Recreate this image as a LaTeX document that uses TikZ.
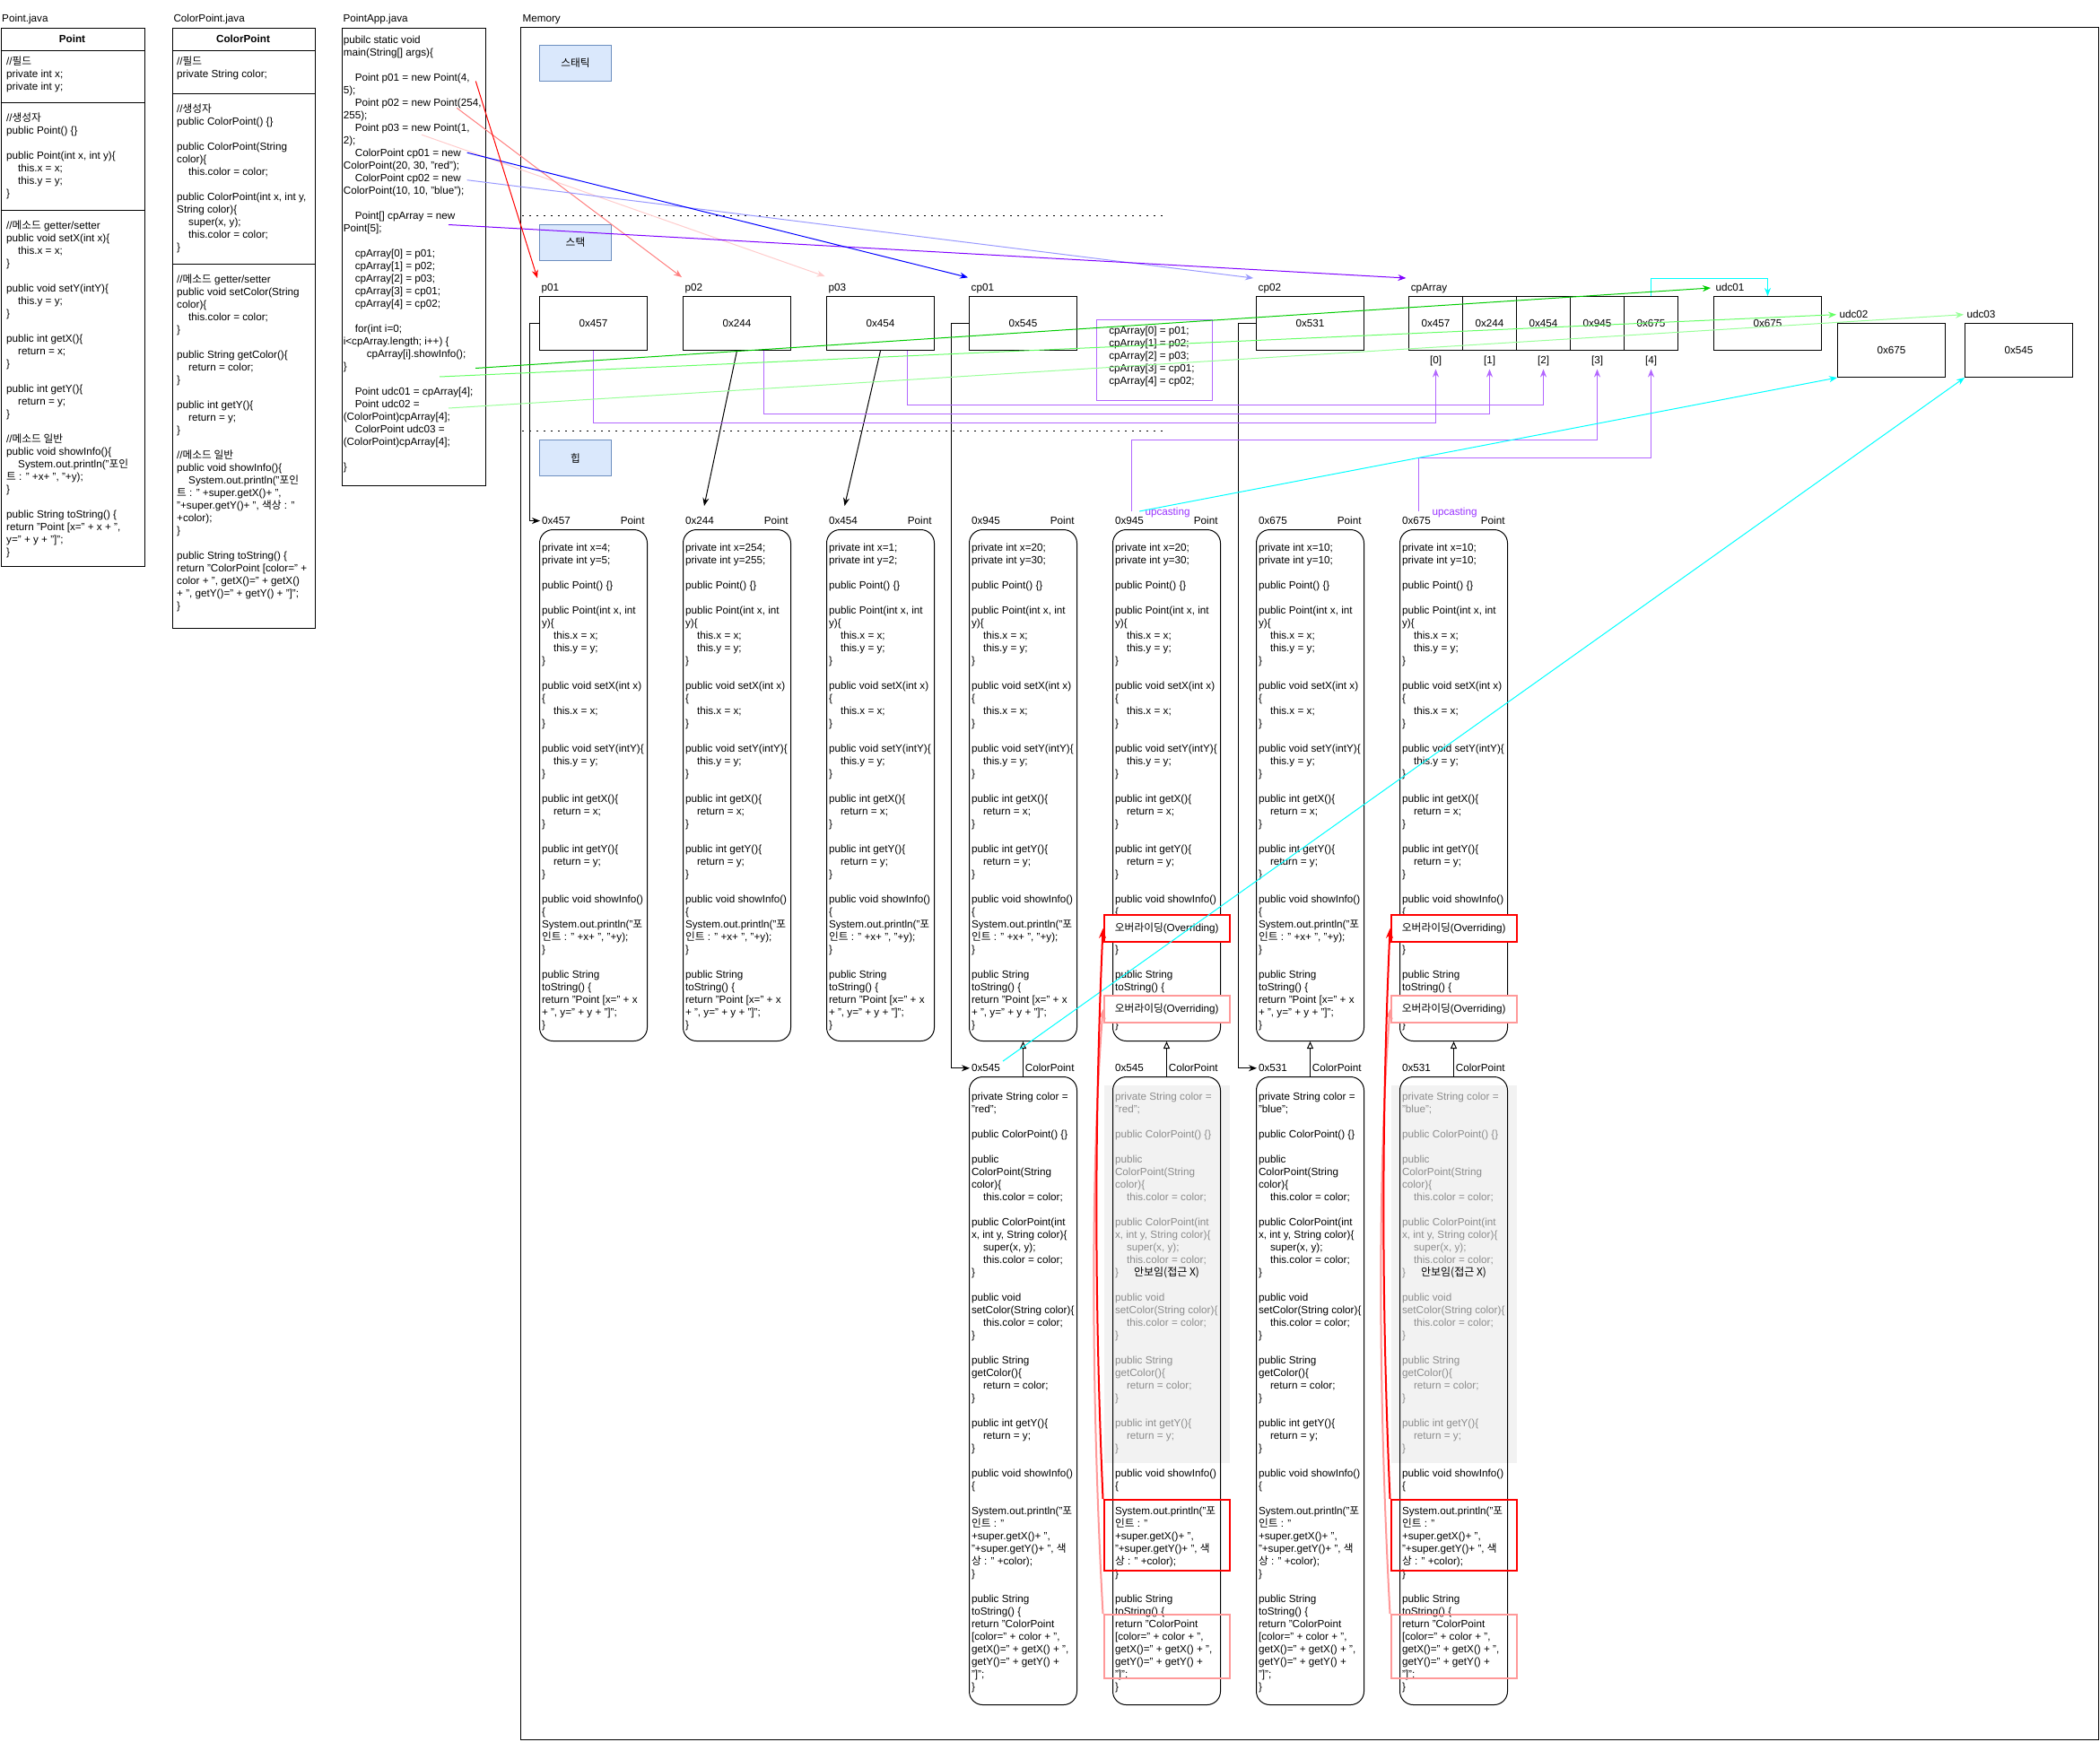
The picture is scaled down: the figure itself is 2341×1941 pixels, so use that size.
\documentclass[tikz,border=0pt]{standalone}
\usepackage{fontspec}
\setmainfont{Liberation Sans}
\newfontfamily\korfont{Noto Sans CJK KR}
\usetikzlibrary{arrows.meta}
\newcommand\kor[1]{{\korfont #1}}
\newcommand\codefont{\fontsize{11.7}{14}\selectfont}
\newcommand\tstrut{\rule{0pt}{11pt}}
\newcommand\ind{\hspace*{13pt}}
\definecolor{cRed}{HTML}{FF0000}
\definecolor{cSalmon}{HTML}{FF8080}
\definecolor{cLPink}{HTML}{FFCCCC}
\definecolor{cPinkB}{HTML}{FF9999}
\definecolor{cBlue}{HTML}{0000FF}
\definecolor{cLBlue}{HTML}{9999FF}
\definecolor{cPurple}{HTML}{7F00FF}
\definecolor{cIPurple}{HTML}{B266FF}
\definecolor{cUpc}{HTML}{9933FF}
\definecolor{cDGreen}{HTML}{00CC00}
\definecolor{cMGreen}{HTML}{66FF66}
\definecolor{cLGreen}{HTML}{99FF99}
\definecolor{cCyan}{HTML}{00FFFF}
\definecolor{cBoxFill}{HTML}{DAE8FC}
\definecolor{cBoxLine}{HTML}{6C8EBF}
\definecolor{cGrayFill}{HTML}{F2F2F2}
\definecolor{cGrayText}{HTML}{8C8C8C}

\newcommand\ptobj[2]{\tstrut private int x=#1;\\
private int y=#2;\\
\\
public Point() \{\}\\
\\
public Point(int x, int\\
y)\{\\
\ind this.x = x;\\
\ind this.y = y;\\
\}\\
\\
public void setX(int x)\\
\{\\
\ind this.x = x;\\
\}\\
\\
public void setY(intY)\{\\
\ind this.y = y;\\
\}\\
\\
public int getX()\{\\
\ind return = x;\\
\}\\
\\
public int getY()\{\\
\ind return = y;\\
\}\\
\\
public void showInfo()\\
\{\\
System.out.println("\kor{포}\\
\kor{인트} : " +x+ ", "+y);\\
\}\\
\\
public String\\
toString() \{\\
return "Point [x=" + x\\
+ ", y=" + y + "]";\\
\}}

\newcommand\cptop[1]{\tstrut private String color =\\
"#1";\\
\\
public ColorPoint() \{\}\\
\\
public\\
ColorPoint(String\\
color)\{\\
\ind this.color = color;\\
\\
public ColorPoint(int\\
x, int y, String color)\{\\
\ind super(x, y);\\
\ind this.color = color;\\
\}\\
\\
public void\\
setColor(String color)\{\\
\ind this.color = color;\\
\}\\
\\
public String\\
getColor()\{\\
\ind return = color;\\
\}\\
\\
public int getY()\{\\
\ind return = y;\\
\}}

\newcommand\cpbot{\tstrut public void showInfo()\\
\{\\
\\
System.out.println("\kor{포}\\
\kor{인트} : "\\
+super.getX()+ ",\\
"+super.getY()+ ", \kor{색}\\
\kor{상} : " +color);\\
\}\\
\\
public String\\
toString() \{\\
return "ColorPoint\\
{[}color=" + color + ",\\
getX()=" + getX() + ",\\
getY()=" + getY() +\\
"]";\\
\}}

\begin{document}
\begin{tikzpicture}[x=1pt,y=-1pt,line width=1pt,
 code/.style={anchor=north west,inner sep=0pt,align=left,font=\codefont},
 lbl/.style={anchor=base west,inner sep=0pt,font=\codefont},
 lblr/.style={anchor=base east,inner sep=0pt,font=\codefont},
 ctr/.style={anchor=base,inner sep=0pt,font=\codefont},
 vbox/.style={draw,inner sep=0pt,minimum width=120pt,minimum height=60pt,font=\codefont},
 cell/.style={draw,inner sep=0pt,minimum width=60pt,minimum height=60pt,font=\codefont},
 secbox/.style={draw=cBoxLine,fill=cBoxFill,inner sep=0pt,minimum width=80pt,minimum height=40pt,font=\codefont\korfont},
 pobj/.style={draw,rounded corners=15pt,inner sep=0pt,minimum width=120pt,minimum height=570pt},
 cobj/.style={draw,rounded corners=15pt,inner sep=0pt,minimum width=120pt,minimum height=700pt},
 arr/.style={-{Stealth[length=9pt,width=7pt]}},
 inh/.style={-{Triangle[open,length=8pt,width=7pt]}},
 ovr/.style={draw=cRed,line width=2pt,fill=white,inner sep=0pt,minimum width=140.5pt,minimum height=30pt,font=\codefont},
 ovp/.style={ovr,draw=cPinkB},
 dotline/.style={line width=1.5pt,dash pattern=on 1.5pt off 6.5pt},
]
\useasboundingbox (0,0) rectangle (2341,1941);
\fill[white] (0,0) rectangle (2341,1941);

% ---------- Point.java ----------
\node[lbl] (lpj) at (1.7,24.1) {Point.java};
\node[draw,anchor=north west,inner sep=0pt,minimum width=160pt,minimum height=600pt] (pcls) at (0.5,30.5) {};
\draw (0.5,56.5) -- (160.5,56.5) (0.5,114.5) -- (160.5,114.5) (0.5,234.5) -- (160.5,234.5);
\node[ctr,font=\codefont\bfseries] (pch) at (80.5,47.4) {Point};
\node[code] (pcs1) at (6.7,61.4) {\tstrut //\kor{필드}\\ private int x;\\ private int y;};
\node[code] (pcs2) at (6.7,123.9) {\tstrut //\kor{생성자}\\ public Point() \{\}\\ \\ public Point(int x, int y)\{\\ \ind this.x = x;\\ \ind this.y = y;\\ \}};
\node[code] (pcs3) at (6.7,244.4) {\tstrut //\kor{메소드} getter/setter\\
public void setX(int x)\{\\
\ind this.x = x;\\
\}\\
\\
public void setY(intY)\{\\
\ind this.y = y;\\
\}\\
\\
public int getX()\{\\
\ind return = x;\\
\}\\
\\
public int getY()\{\\
\ind return = y;\\
\}\\
\\
//\kor{메소드 일반}\\
public void showInfo()\{\\
\ind System.out.println("\kor{포인}\\
\kor{트} : " +x+ ", "+y);\\
\}\\
\\
public String toString() \{\\
return "Point [x=" + x + ",\\
y=" + y + "]";\\
\}};

% ---------- ColorPoint.java ----------
\node[lbl] (lcpj) at (193,24.1) {ColorPoint.java};
\node[draw,anchor=north west,inner sep=0pt,minimum width=159pt,minimum height=669pt] (ccls) at (191.5,30.5) {};
\draw (191.5,56.5) -- (350.5,56.5) (191.5,104.5) -- (350.5,104.5) (191.5,294.5) -- (350.5,294.5);
\node[ctr,font=\codefont\bfseries] (cch) at (271,47.4) {ColorPoint};
\node[code] (ccs1) at (196.7,61.4) {\tstrut //\kor{필드}\\ private String color;};
\node[code] (ccs2) at (196.7,113.6) {\tstrut //\kor{생성자}\\
public ColorPoint() \{\}\\
\\
public ColorPoint(String\\
color)\{\\
\ind this.color = color;\\
\\
public ColorPoint(int x, int y,\\
String color)\{\\
\ind super(x, y);\\
\ind this.color = color;\\
\}};
\node[code] (ccs3) at (196.7,304.3) {\tstrut //\kor{메소드} getter/setter\\
public void setColor(String\\
color)\{\\
\ind this.color = color;\\
\}\\
\\
public String getColor()\{\\
\ind return = color;\\
\}\\
\\
public int getY()\{\\
\ind return = y;\\
\}\\
\\
//\kor{메소드 일반}\\
public void showInfo()\{\\
\ind System.out.println("\kor{포인}\\
\kor{트} : " +super.getX()+ ",\\
"+super.getY()+ ", \kor{색상} : "\\
+color);\\
\}\\
\\
public String toString() \{\\
return "ColorPoint [color=" +\\
color + ", getX()=" + getX()\\
+ ", getY()=" + getY() + "]";\\
\}};

% ---------- PointApp.java ----------
\node[lbl] (lapp) at (382,24.1) {PointApp.java};
\node[draw,anchor=north west,inner sep=0pt,minimum width=160pt,minimum height=510pt] (app) at (380.5,30.5) {};
\node[code] (apptxt) at (382.3,37) {\tstrut pubilc static void\\
main(String[] args)\{\\
\\
\ind Point p01 = new Point(4,\\
5);\\
\ind Point p02 = new Point(254,\\
255);\\
\ind Point p03 = new Point(1,\\
2);\\
\ind ColorPoint cp01 = new\\
ColorPoint(20, 30, "red");\\
\ind ColorPoint cp02 = new\\
ColorPoint(10, 10, "blue");\\
\\
\ind Point{[]} cpArray = new\\
Point[5];\\
\\
\ind cpArray[0] = p01;\\
\ind cpArray[1] = p02;\\
\ind cpArray[2] = p03;\\
\ind cpArray[3] = cp01;\\
\ind cpArray[4] = cp02;\\
\\
\ind for(int i=0;\\
i<cpArray.length; i++) \{\\
\ind\ind cpArray[i].showInfo();\\
\}\\
\\
\ind Point udc01 = cpArray[4];\\
\ind Point udc02 =\\
(ColorPoint)cpArray[4];\\
\ind ColorPoint udc03 =\\
(ColorPoint)cpArray[4];\\
\\
\}};

% ---------- Memory ----------
\node[lbl] (lmem) at (582,24.1) {Memory};
\draw (580.5,30.5) rectangle (2339.5,1939.5);
\node[secbox] (sstatic) at (641.5,70.5) {스태틱};
\node[secbox] (sstack) at (641.5,270.5) {스택};
\node[secbox] (sheap) at (641.5,510.5) {힙};
\draw[dotline] (582,240.5) -- (1295.5,240.5);
\draw[dotline] (582,480.5) -- (1295.5,480.5);

% stack variables
\node[lbl] (lp01) at (603.2,324.8) {p01};
\node[vbox] (p01) at (661.5,360.5) {0x457};
\node[lbl] (lp02) at (763.2,324.8) {p02};
\node[vbox] (p02) at (821.5,360.5) {0x244};
\node[lbl] (lp03) at (923.2,324.8) {p03};
\node[vbox] (p03) at (981.5,360.5) {0x454};
\node[lbl] (lcp01) at (1082.2,324.8) {cp01};
\node[vbox] (cp01) at (1140.5,360.5) {0x545};
\node[lbl] (lcp02) at (1402.2,324.8) {cp02};
\node[vbox] (cp02) at (1460.5,360.5) {0x531};

\node[draw=cIPurple,anchor=north west,inner sep=0pt,minimum width=129.5pt,minimum height=90pt] (cpt) at (1221.5,355.5) {};
\node[code] (cpttxt) at (1235.8,361.1) {\tstrut cpArray[0] = p01;\\ cpArray[1] = p02;\\ cpArray[2] = p03;\\ cpArray[3] = cp01;\\ cpArray[4] = cp02;};

\node[lbl] (lcpa) at (1572.3,324.8) {cpArray};
\node[cell] (a0) at (1600.5,360.5) {0x457};
\node[cell] (a1) at (1660.5,360.5) {0x244};
\node[cell] (a2) at (1720.5,360.5) {0x454};
\node[cell] (a3) at (1780.5,360.5) {0x945};
\node[cell] (a4) at (1840.5,360.5) {0x675};
\node[ctr] (i0) at (1600.5,405.8) {[0]};
\node[ctr] (i1) at (1660.5,405.8) {[1]};
\node[ctr] (i2) at (1720.5,405.8) {[2]};
\node[ctr] (i3) at (1780.5,405.8) {[3]};
\node[ctr] (i4) at (1840.5,405.8) {[4]};

\node[lbl] (ludc1) at (1912,324.8) {udc01};
\node[vbox] (udc01) at (1970.5,360.5) {0x675};
\node[lbl] (ludc2) at (2050,354.8) {udc02};
\node[vbox] (udc02) at (2108.5,390.5) {0x675};
\node[lbl] (ludc3) at (2192,354.8) {udc03};
\node[vbox] (udc03) at (2250.5,390.5) {0x545};

% gray (hidden) areas
\fill[cGrayFill] (1230.5,1210) rectangle (1371,1631);
\fill[cGrayFill] (1550.5,1210) rectangle (1691,1631);

% heap Point objects
\node[pobj] (h1) at (661.5,875.5) {};
\node[pobj] (h2) at (821.5,875.5) {};
\node[pobj] (h3) at (981.5,875.5) {};
\node[pobj] (h4) at (1140.5,875.5) {};
\node[pobj] (h5) at (1300.5,875.5) {};
\node[pobj] (h6) at (1460.5,875.5) {};
\node[pobj] (h7) at (1620.5,875.5) {};
\node[code] (th1) at (603.5,602.5) {\ptobj{4}{5}};
\node[code] (th2) at (763.5,602.5) {\ptobj{254}{255}};
\node[code] (th3) at (923.5,602.5) {\ptobj{1}{2}};
\node[code] (th4) at (1082.5,602.5) {\ptobj{20}{30}};
\node[code] (th5) at (1242.5,602.5) {\ptobj{20}{30}};
\node[code] (th6) at (1402.5,602.5) {\ptobj{10}{10}};
\node[code] (th7) at (1562.5,602.5) {\ptobj{10}{10}};
\node[lbl] (lh1) at (603.5,584.6) {0x457};
\node[lblr] (rh1) at (719,584.6) {Point};
\node[lbl] (lh2) at (763.5,584.6) {0x244};
\node[lblr] (rh2) at (879,584.6) {Point};
\node[lbl] (lh3) at (923.5,584.6) {0x454};
\node[lblr] (rh3) at (1039,584.6) {Point};
\node[lbl] (lh4) at (1082.5,584.6) {0x945};
\node[lblr] (rh4) at (1198,584.6) {Point};
\node[lbl] (lh5) at (1242.5,584.6) {0x945};
\node[lblr] (rh5) at (1358,584.6) {Point};
\node[lbl] (lh6) at (1402.5,584.6) {0x675};
\node[lblr] (rh6) at (1518,584.6) {Point};
\node[lbl] (lh7) at (1562.5,584.6) {0x675};
\node[lblr] (rh7) at (1678,584.6) {Point};
\node[lbl,text=cUpc] (up5) at (1276,574.8) {upcasting};
\node[lbl,text=cUpc] (up7) at (1596,574.8) {upcasting};

% heap ColorPoint objects
\node[cobj] (c4) at (1140.5,1550.5) {};
\node[cobj] (c5) at (1300.5,1550.5) {};
\node[cobj] (c6) at (1460.5,1550.5) {};
\node[cobj] (c7) at (1620.5,1550.5) {};
\node[code] (tc4a) at (1082.5,1214.9) {\cptop{red}};
\node[code,text=cGrayText] (tc5a) at (1242.5,1214.9) {\cptop{red}};
\node[code] (tc6a) at (1402.5,1214.9) {\cptop{blue}};
\node[code,text=cGrayText] (tc7a) at (1562.5,1214.9) {\cptop{blue}};
\node[code] (tc4b) at (1082.5,1634.9) {\cpbot};
\node[code] (tc5b) at (1242.5,1634.9) {\cpbot};
\node[code] (tc6b) at (1402.5,1634.9) {\cpbot};
\node[code] (tc7b) at (1562.5,1634.9) {\cpbot};
\node[lbl] (lc4) at (1082.5,1194.8) {0x545};
\node[lblr] (rc4) at (1198,1194.8) {ColorPoint};
\node[lbl] (lc5) at (1242.5,1194.8) {0x545};
\node[lblr] (rc5) at (1358,1194.8) {ColorPoint};
\node[lbl] (lc6) at (1402.5,1194.8) {0x531};
\node[lblr] (rc6) at (1518,1194.8) {ColorPoint};
\node[lbl] (lc7) at (1562.5,1194.8) {0x531};
\node[lblr] (rc7) at (1678,1194.8) {ColorPoint};
\node[font=\korfont\fontsize{12}{14}\selectfont,inner sep=0pt] (hid5) at (1300.5,1419) {안보임(접근 X)};
\node[font=\korfont\fontsize{12}{14}\selectfont,inner sep=0pt] (hid7) at (1620.5,1419) {안보임(접근 X)};

% inheritance
\draw[inh] (c4.north) -- (h4.south);
\draw[inh] (c5.north) -- (h5.south);
\draw[inh] (c6.north) -- (h6.south);
\draw[inh] (c7.north) -- (h7.south);

% overriding boxes
\node[ovr] (ov5a) at (1300.75,1035) {\kor{오버라이딩}(Overriding)};
\node[ovp] (ov5b) at (1300.75,1125) {\kor{오버라이딩}(Overriding)};
\node[ovr] (ov7a) at (1620.75,1035) {\kor{오버라이딩}(Overriding)};
\node[ovp] (ov7b) at (1620.75,1125) {\kor{오버라이딩}(Overriding)};
\node[draw=cRed,line width=2pt,inner sep=0pt,minimum width=140.5pt,minimum height=79pt] (hl5a) at (1300.75,1711.5) {};
\node[draw=cPinkB,line width=2pt,inner sep=0pt,minimum width=140.5pt,minimum height=71pt] (hl5b) at (1300.75,1835.5) {};
\node[draw=cRed,line width=2pt,inner sep=0pt,minimum width=140.5pt,minimum height=79pt] (hl7a) at (1620.75,1711.5) {};
\node[draw=cPinkB,line width=2pt,inner sep=0pt,minimum width=140.5pt,minimum height=71pt] (hl7b) at (1620.75,1835.5) {};

% ---------- connectors ----------
% black references
\draw[arr,shorten >=1.5pt] (p01.west) -- (590.5,360.5) |- (lh1.west);
\coordinate (b2) at (785,564);
\coordinate (b3) at (941.5,564);
\draw[arr] (p02.south) -- (b2);
\draw[arr] (p03.south) -- (b3);
\draw[arr,shorten >=1.5pt] (cp01.west) -- (1060.5,360.5) |- (lc4.west);
\draw[arr,shorten >=1.5pt] (cp02.west) -- (1380.5,360.5) |- (lc6.west);

% array index references
\coordinate (t0) at (1600.5,411.5);
\coordinate (t1) at (1660.5,411.5);
\coordinate (t2) at (1720.5,411.5);
\coordinate (t3) at (1780.5,411.5);
\coordinate (t4) at (1840.5,411.5);
\coordinate (u5) at (1261.5,570);
\coordinate (u7) at (1581.5,570);
\draw[arr,cIPurple] (p01.south) -- ++(0,80) -| (t0);
\draw[arr,cIPurple] ([xshift=30pt]p02.south) -- ++(0,70) -| (t1);
\draw[arr,cIPurple] ([xshift=30pt]p03.south) -- ++(0,60) -| (t2);
\draw[arr,cIPurple] (u5) -- ++(0,-79.5) -| (t3);
\draw[arr,cIPurple] (u7) -- ++(0,-59.5) -| (t4);

% cyan
\coordinate (cy2) at (1270,570);
\coordinate (cy3) at (1118,1183);
\draw[arr,cCyan] (a4.north) -- ++(0,-20) -| (udc01.north);
\draw[arr,cCyan] (cy2) -- (udc02.south west);
\draw[arr,cCyan] (cy3) -- (udc03.south west);

% from PointApp
\coordinate (s1) at (530.3,90.5);   \coordinate (e1) at (599,310);
\coordinate (s2) at (509.3,120.4);  \coordinate (e2) at (760,309);
\coordinate (s3) at (470,150.2);    \coordinate (e3) at (919.5,308);
\coordinate (s4) at (520.7,170.2);  \coordinate (e4) at (1079,309.3);
\coordinate (s5) at (520.7,200.7);  \coordinate (e5) at (1397,310);
\coordinate (s6) at (500,250.5);    \coordinate (e6) at (1567.4,310);
\coordinate (s7) at (530,410.5);    \coordinate (e7) at (1907,321);
\coordinate (s8) at (490,420);      \coordinate (e8) at (2047,350.7);
\coordinate (s9) at (500,455);      \coordinate (e9) at (2189,350.7);
\draw[arr,cLPink] (s3) -- (e3);
\draw[arr,cSalmon] (s2) -- (e2);
\draw[arr,cLBlue] (s5) -- (e5);
\draw[arr,cPurple] (s6) -- (e6);
\draw[arr,cBlue] (s4) -- (e4);
\draw[arr,cRed] (s1) -- (e1);
\draw[arr,cLGreen] (s9) -- (e9);
\draw[arr,cMGreen] (s8) -- (e8);
\draw[arr,cDGreen] (s7) -- (e7);

% overriding arrows
\draw[cPinkB,line width=2pt,-{Stealth[length=11pt,width=8pt]}] (hl5b.north west) .. controls (1216,1550) and (1216,1300) .. (ov5b.west);
\draw[cRed,line width=2pt,-{Stealth[length=11pt,width=8pt]}] (hl5a.north west) .. controls (1220,1450) and (1220,1250) .. (ov5a.west);
\draw[cPinkB,line width=2pt,-{Stealth[length=11pt,width=8pt]}] (hl7b.north west) .. controls (1536,1550) and (1536,1300) .. (ov7b.west);
\draw[cRed,line width=2pt,-{Stealth[length=11pt,width=8pt]}] (hl7a.north west) .. controls (1540,1450) and (1540,1250) .. (ov7a.west);
\end{tikzpicture}
\end{document}
